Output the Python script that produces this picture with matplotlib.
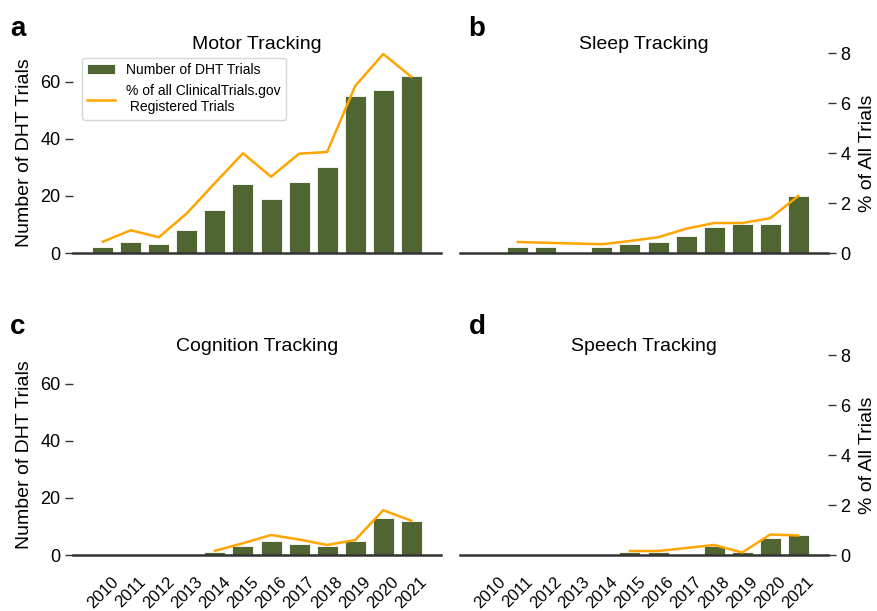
import numpy as np
import matplotlib
matplotlib.use("Agg")
import matplotlib.pyplot as plt

plt.rcParams['font.family'] = ['Liberation Sans', 'DejaVu Sans']

years = [2010, 2011, 2012, 2013, 2014, 2015, 2016, 2017, 2018, 2019, 2020, 2021]
nan = np.nan

motor_n = [2, 4, 3, 8, 15, 24, 19, 25, 30, 55, 57, 62]
motor_pct = [0.45, 0.91, 0.63, 1.59, 2.8, 3.99, 3.05, 3.97, 4.04, 6.68, 7.96, 7.05]

sleep_n = [0, 2, 2, 0, 2, 3, 4, 6, 9, 10, 10, 20]
sleep_pct = [nan, 0.44, 0.41, nan, 0.35, 0.48, 0.63, 0.97, 1.2, 1.2, 1.39, 2.28]

cognition_n = [0, 0, 0, 0, 1, 3, 5, 4, 3, 5, 13, 12]
cognition_pct = [nan, nan, nan, nan, 0.17, 0.47, 0.8, 0.62, 0.4, 0.6, 1.79, 1.37]

speech_n = [0, 0, 0, 0, 0, 1, 1, 0, 3, 1, 6, 7]
speech_pct = [nan, nan, nan, nan, nan, 0.16, 0.16, nan, 0.4, 0.1, 0.82, 0.78]

titles = ['Motor Tracking', 'Sleep Tracking', 'Cognition Tracking', 'Speech Tracking']
letters = ['a', 'b', 'c', 'd']

BAR_COLOR = '#4f6633'
LINE_COLOR = '#ffa500'
SPINE_COLOR = '#333333'


def Plot_panel(fig, rect, counts, pct, title, left_side, bottom_row, legend=False):
    ax = fig.add_axes(rect)
    x = np.arange(len(years))
    bars = ax.bar(x, counts, width=0.75, color=BAR_COLOR, edgecolor='white', linewidth=0.6,
                  label='Number of DHT Trials')
    ax.set_xlim(-1.06, len(years) - 1 + 1.06)
    ax.set_ylim(0, 70)
    ax.set_yticks([0, 20, 40, 60])
    for s in ['top', 'right', 'left']:
        ax.spines[s].set_visible(False)
    ax.spines['bottom'].set_color(SPINE_COLOR)
    ax.spines['bottom'].set_linewidth(1.8)
    ax.set_xticks(x)
    if bottom_row:
        ax.set_xticklabels([str(y) for y in years], rotation=45, fontsize=12)
    else:
        ax.set_xticklabels([])
    ax.tick_params(axis='x', length=0, pad=14)
    ax.tick_params(axis='y', length=6, width=1, color=SPINE_COLOR, labelsize=13, pad=3)
    ax.set_title(title, fontsize=14, pad=2)

    ax2 = ax.twinx()
    pct = np.array(pct, dtype=float)
    ok = ~np.isnan(pct)
    line, = ax2.plot(x[ok], pct[ok], color=LINE_COLOR, linewidth=1.8,
                     label='% of all ClinicalTrials.gov\n Registered Trials')
    ax2.set_ylim(0, 8)
    ax2.set_yticks([0, 2, 4, 6, 8])
    for s in ax2.spines.values():
        s.set_visible(False)
    ax2.tick_params(axis='y', length=6, width=1, color=SPINE_COLOR, labelsize=13, pad=3)

    if left_side:
        ax.set_ylabel('Number of DHT Trials', fontsize=14, labelpad=5)
        ax2.tick_params(axis='y', right=False, labelright=False)
    else:
        ax.tick_params(axis='y', left=False, labelleft=False)
        ax2.set_ylabel('% of All Trials', fontsize=14, labelpad=6)

    if legend:
        ax2.legend([bars, line], [bars.get_label(), line.get_label()], loc='upper left',
                   bbox_to_anchor=(0.024, 0.977), borderaxespad=0, fontsize=10,
                   frameon=True, edgecolor='#cccccc', handlelength=2.0)
    return ax


fig = plt.figure(figsize=(8.77, 6.11), dpi=100)

W, H = 877.0, 611.0
w = 368 / W
h = 200 / H
rects = [
    [73 / W, 1 - 253 / H, w, h],
    [460 / W, 1 - 253 / H, w, h],
    [73 / W, 1 - 555 / H, w, h],
    [460 / W, 1 - 555 / H, w, h],
]

all_n = [motor_n, sleep_n, cognition_n, speech_n]
all_pct = [motor_pct, sleep_pct, cognition_pct, speech_pct]

for i in range(4):
    Plot_panel(fig, rects[i], all_n[i], all_pct[i], titles[i],
               left_side=(i % 2 == 0), bottom_row=(i >= 2), legend=(i == 0))

# panel letters
letter_pos = [(10, 36), (468, 36), (10, 334), (469, 334)]
for L, (px, py) in zip(letters, letter_pos):
    fig.text(px / W, 1 - py / H, L, fontsize=20, fontweight='bold', ha='left', va='baseline')

plt.savefig('out.png', dpi=100)
